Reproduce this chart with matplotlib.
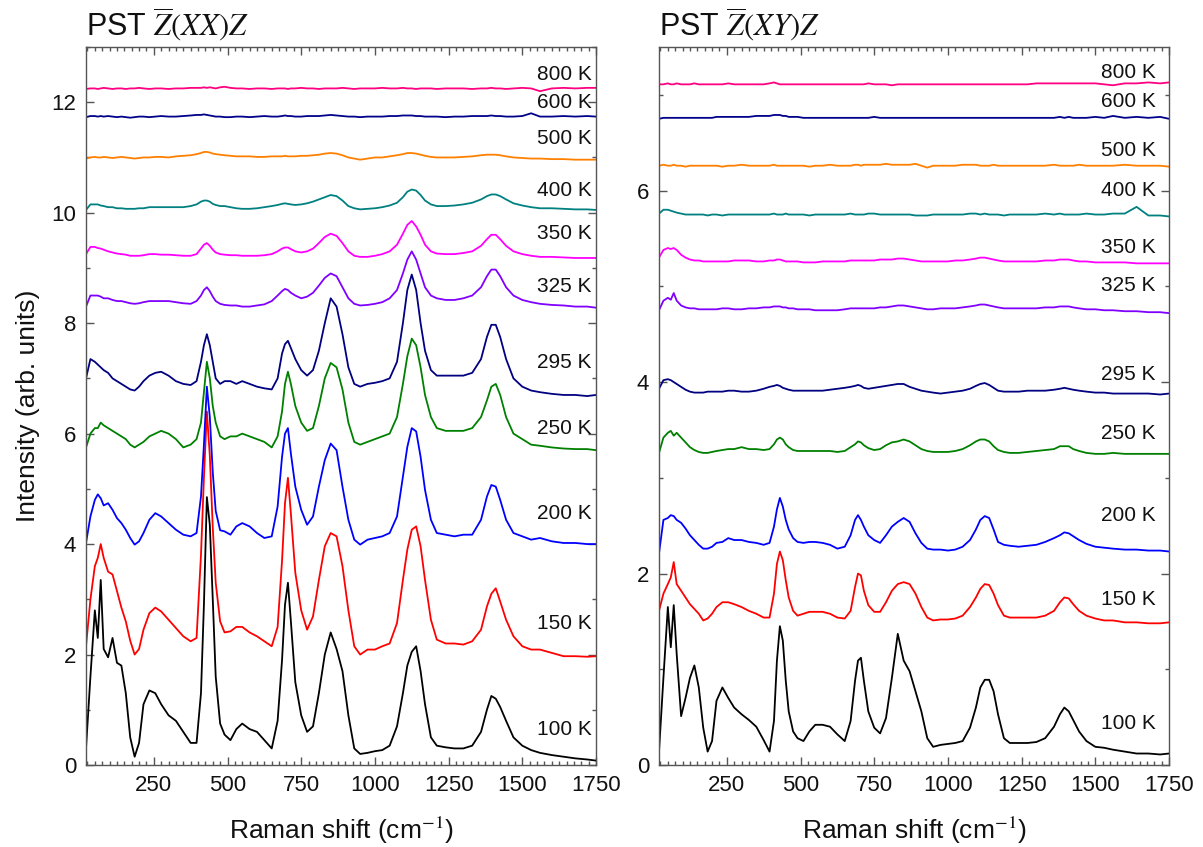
import matplotlib
matplotlib.use("Agg")
import matplotlib.pyplot as plt
from matplotlib.ticker import MultipleLocator

plt.rcParams['font.family'] = ['Liberation Sans', 'DejaVu Sans']
plt.rcParams['mathtext.fontset'] = 'stix'

# Raman shift grid (cm^-1), shared by every spectrum
raman_shift = [20, 35, 50, 60, 70, 80, 95, 110, 125, 140,
               155, 170, 185, 200, 215, 235, 255, 275, 300, 325,
               350, 375, 395, 410, 420, 430, 440, 450, 460, 475,
               490, 510, 530, 550, 575, 600, 625, 650, 670, 685,
               695, 705, 715, 730, 750, 770, 790, 810, 830, 850,
               870, 890, 910, 930, 950, 975, 1000, 1025, 1050, 1075,
               1095, 1110, 1125, 1140, 1155, 1170, 1190, 1210, 1240, 1270,
               1300, 1330, 1360, 1380, 1395, 1410, 1425, 1445, 1470, 1500,
               1530, 1560, 1600, 1640, 1680, 1720, 1750]

temperatures = ['100 K', '150 K', '200 K', '250 K', '295 K', '325 K',
                '350 K', '400 K', '500 K', '600 K', '800 K']
colors = ['#000000', '#ff0000', '#0000ff', '#008000', '#000080', '#8000ff',
          '#ff00ff', '#008080', '#ff8000', '#00008b', '#ff0080']

# ---------------- Z(XX)Z (left panel) ----------------
xx_100 = [0.30, 1.60, 2.80, 2.30, 3.35, 2.10, 1.95, 2.30, 1.85, 1.80,
          1.30, 0.50, 0.15, 0.40, 1.10, 1.35, 1.30, 1.10, 0.90, 0.80,
          0.60, 0.40, 0.40, 1.30, 2.90, 4.85, 4.35, 3.00, 1.60, 0.75,
          0.55, 0.45, 0.65, 0.75, 0.65, 0.60, 0.45, 0.30, 0.80, 1.90,
          2.90, 3.30, 2.60, 1.50, 0.90, 0.60, 0.70, 1.30, 2.00, 2.40,
          2.10, 1.70, 0.90, 0.30, 0.20, 0.22, 0.25, 0.27, 0.35, 0.70,
          1.30, 1.80, 2.05, 2.15, 1.70, 1.10, 0.50, 0.35, 0.32, 0.30,
          0.30, 0.35, 0.60, 1.00, 1.25, 1.20, 1.05, 0.80, 0.50, 0.35,
          0.27, 0.22, 0.18, 0.15, 0.12, 0.10, 0.08]
xx_150 = [2.15, 3.00, 3.60, 3.75, 4.00, 3.75, 3.50, 3.45, 3.15, 2.85,
          2.60, 2.25, 2.00, 2.10, 2.45, 2.75, 2.85, 2.78, 2.63, 2.48,
          2.33, 2.24, 2.30, 3.80, 5.20, 6.40, 5.60, 4.30, 3.30, 2.60,
          2.40, 2.42, 2.50, 2.50, 2.40, 2.33, 2.24, 2.15, 2.50, 3.70,
          4.74, 5.20, 4.55, 3.48, 2.80, 2.45, 2.69, 3.35, 3.96, 4.20,
          4.14, 3.60, 2.80, 2.15, 2.00, 2.09, 2.09, 2.15, 2.20, 2.57,
          3.35, 3.90, 4.26, 4.32, 3.96, 3.35, 2.63, 2.27, 2.20, 2.20,
          2.18, 2.24, 2.45, 2.87, 3.10, 3.20, 2.96, 2.63, 2.33, 2.15,
          2.09, 2.09, 2.03, 1.97, 1.97, 1.96, 1.97]
xx_200 = [4.02, 4.50, 4.80, 4.90, 4.83, 4.70, 4.74, 4.62, 4.47, 4.38,
          4.26, 4.11, 3.99, 4.05, 4.20, 4.44, 4.56, 4.50, 4.38, 4.26,
          4.17, 4.14, 4.20, 4.86, 5.80, 6.85, 6.30, 5.30, 4.60, 4.25,
          4.23, 4.17, 4.32, 4.38, 4.32, 4.20, 4.11, 4.14, 4.68, 5.58,
          6.00, 6.10, 5.64, 5.04, 4.62, 4.35, 4.50, 5.04, 5.52, 5.82,
          5.70, 5.04, 4.44, 4.08, 3.99, 4.08, 4.11, 4.14, 4.20, 4.50,
          5.22, 5.76, 6.10, 6.04, 5.58, 4.98, 4.44, 4.20, 4.17, 4.14,
          4.17, 4.17, 4.44, 4.86, 5.07, 5.04, 4.80, 4.44, 4.20, 4.14,
          4.08, 4.11, 4.05, 4.02, 4.02, 4.00, 4.00]
xx_250 = [5.75, 6.00, 6.10, 6.10, 6.20, 6.15, 6.10, 6.05, 6.00, 5.95,
          5.90, 5.80, 5.75, 5.80, 5.85, 5.95, 6.00, 6.05, 6.00, 5.90,
          5.75, 5.80, 5.90, 6.20, 6.75, 7.30, 7.00, 6.50, 6.20, 5.95,
          5.90, 5.95, 5.95, 6.00, 5.95, 5.90, 5.85, 5.75, 5.95, 6.40,
          6.90, 7.12, 6.90, 6.50, 6.20, 6.05, 6.10, 6.50, 7.00, 7.28,
          7.20, 6.80, 6.20, 5.85, 5.80, 5.85, 5.90, 5.95, 6.00, 6.30,
          6.90, 7.40, 7.72, 7.60, 7.20, 6.70, 6.30, 6.10, 6.05, 6.05,
          6.05, 6.10, 6.30, 6.60, 6.85, 6.90, 6.70, 6.30, 6.00, 5.90,
          5.80, 5.78, 5.75, 5.73, 5.72, 5.72, 5.70]
xx_295 = [7.00, 7.35, 7.30, 7.25, 7.20, 7.15, 7.10, 7.00, 6.95, 6.90,
          6.85, 6.80, 6.78, 6.85, 6.95, 7.05, 7.10, 7.12, 7.05, 6.95,
          6.90, 6.88, 6.95, 7.30, 7.60, 7.80, 7.60, 7.30, 7.00, 6.90,
          6.95, 6.95, 6.90, 6.95, 6.90, 6.85, 6.82, 6.80, 7.00, 7.45,
          7.62, 7.68, 7.55, 7.35, 7.15, 7.05, 7.15, 7.50, 8.00, 8.45,
          8.30, 7.80, 7.20, 6.90, 6.85, 6.90, 6.92, 6.95, 7.00, 7.30,
          8.00, 8.60, 8.88, 8.60, 8.00, 7.50, 7.15, 7.05, 7.05, 7.05,
          7.05, 7.10, 7.35, 7.75, 7.97, 7.97, 7.75, 7.35, 7.00, 6.85,
          6.78, 6.75, 6.72, 6.70, 6.70, 6.68, 6.70]
xx_325 = [8.30, 8.50, 8.50, 8.50, 8.48, 8.45, 8.45, 8.42, 8.40, 8.40,
          8.38, 8.36, 8.35, 8.36, 8.38, 8.40, 8.40, 8.40, 8.40, 8.38,
          8.36, 8.35, 8.40, 8.50, 8.60, 8.65, 8.58, 8.48, 8.40, 8.35,
          8.33, 8.32, 8.32, 8.30, 8.30, 8.32, 8.34, 8.40, 8.50, 8.58,
          8.62, 8.60, 8.55, 8.50, 8.45, 8.48, 8.55, 8.68, 8.82, 8.90,
          8.85, 8.65, 8.45, 8.35, 8.32, 8.33, 8.35, 8.38, 8.45, 8.60,
          8.90, 9.15, 9.30, 9.15, 8.90, 8.65, 8.50, 8.45, 8.42, 8.42,
          8.45, 8.50, 8.65, 8.85, 8.97, 8.97, 8.85, 8.65, 8.50, 8.42,
          8.38, 8.35, 8.33, 8.32, 8.30, 8.30, 8.28]
xx_350 = [9.25, 9.38, 9.38, 9.36, 9.35, 9.33, 9.30, 9.28, 9.26, 9.25,
          9.24, 9.22, 9.22, 9.22, 9.23, 9.25, 9.25, 9.24, 9.24, 9.23,
          9.22, 9.22, 9.25, 9.35, 9.42, 9.45, 9.40, 9.33, 9.28, 9.25,
          9.24, 9.23, 9.23, 9.22, 9.22, 9.22, 9.23, 9.25, 9.30, 9.35,
          9.37, 9.37, 9.34, 9.30, 9.28, 9.30, 9.35, 9.45, 9.56, 9.62,
          9.58, 9.45, 9.30, 9.22, 9.20, 9.20, 9.22, 9.25, 9.30, 9.42,
          9.62, 9.78, 9.85, 9.75, 9.60, 9.42, 9.30, 9.26, 9.25, 9.25,
          9.27, 9.30, 9.40, 9.52, 9.60, 9.60, 9.52, 9.40, 9.30, 9.25,
          9.22, 9.20, 9.20, 9.19, 9.18, 9.18, 9.18]
xx_400 = [10.05, 10.15, 10.15, 10.15, 10.13, 10.12, 10.10, 10.10, 10.08, 10.08,
          10.07, 10.07, 10.07, 10.08, 10.08, 10.10, 10.10, 10.10, 10.10, 10.10,
          10.10, 10.12, 10.15, 10.20, 10.22, 10.22, 10.20, 10.16, 10.14, 10.12,
          10.12, 10.10, 10.08, 10.07, 10.07, 10.08, 10.10, 10.12, 10.14, 10.16,
          10.17, 10.16, 10.15, 10.14, 10.15, 10.17, 10.20, 10.24, 10.28, 10.32,
          10.30, 10.22, 10.12, 10.08, 10.06, 10.07, 10.08, 10.10, 10.13, 10.18,
          10.28, 10.38, 10.42, 10.40, 10.32, 10.22, 10.15, 10.12, 10.12, 10.13,
          10.15, 10.18, 10.24, 10.30, 10.33, 10.33, 10.30, 10.24, 10.17, 10.13,
          10.10, 10.08, 10.08, 10.07, 10.06, 10.06, 10.05]
xx_500 = [10.98, 11.00, 11.01, 11.00, 11.00, 11.01, 11.00, 10.99, 11.00, 11.01,
          11.00, 10.99, 10.98, 10.99, 11.00, 11.00, 11.01, 11.01, 11.00, 11.02,
          11.03, 11.04, 11.06, 11.08, 11.10, 11.10, 11.09, 11.07, 11.06, 11.05,
          11.04, 11.03, 11.02, 11.02, 11.02, 11.01, 11.01, 11.02, 11.02, 11.02,
          11.03, 11.02, 11.02, 11.02, 11.03, 11.03, 11.04, 11.05, 11.07, 11.08,
          11.07, 11.04, 11.00, 10.98, 10.96, 10.98, 11.00, 11.00, 11.02, 11.04,
          11.06, 11.08, 11.08, 11.07, 11.05, 11.03, 11.01, 11.00, 11.00, 11.00,
          11.01, 11.02, 11.04, 11.05, 11.05, 11.05, 11.04, 11.02, 11.00, 10.99,
          10.98, 10.98, 10.97, 10.97, 10.96, 10.96, 10.96]
xx_600 = [11.73, 11.75, 11.75, 11.74, 11.75, 11.74, 11.75, 11.74, 11.73, 11.74,
          11.73, 11.72, 11.73, 11.74, 11.74, 11.73, 11.74, 11.75, 11.74, 11.74,
          11.75, 11.76, 11.77, 11.77, 11.78, 11.77, 11.76, 11.75, 11.74, 11.74,
          11.73, 11.73, 11.74, 11.74, 11.73, 11.74, 11.75, 11.74, 11.74, 11.75,
          11.76, 11.75, 11.75, 11.74, 11.74, 11.75, 11.75, 11.75, 11.76, 11.77,
          11.76, 11.75, 11.74, 11.74, 11.73, 11.74, 11.74, 11.74, 11.75, 11.75,
          11.76, 11.76, 11.76, 11.75, 11.75, 11.74, 11.74, 11.74, 11.73, 11.74,
          11.74, 11.75, 11.75, 11.75, 11.76, 11.75, 11.75, 11.74, 11.74, 11.75,
          11.80, 11.74, 11.74, 11.75, 11.74, 11.75, 11.74]
xx_800 = [12.24, 12.25, 12.25, 12.24, 12.25, 12.26, 12.25, 12.24, 12.25, 12.25,
          12.24, 12.25, 12.25, 12.26, 12.25, 12.24, 12.25, 12.25, 12.24, 12.25,
          12.25, 12.26, 12.26, 12.26, 12.27, 12.26, 12.27, 12.26, 12.25, 12.27,
          12.28, 12.26, 12.25, 12.25, 12.24, 12.25, 12.25, 12.24, 12.25, 12.25,
          12.25, 12.24, 12.25, 12.25, 12.26, 12.25, 12.25, 12.24, 12.25, 12.25,
          12.25, 12.26, 12.25, 12.24, 12.25, 12.25, 12.25, 12.26, 12.25, 12.25,
          12.26, 12.25, 12.25, 12.24, 12.25, 12.25, 12.25, 12.24, 12.25, 12.25,
          12.25, 12.24, 12.25, 12.25, 12.26, 12.25, 12.25, 12.24, 12.25, 12.26,
          12.25, 12.20, 12.25, 12.26, 12.25, 12.26, 12.26]

# ---------------- Z(XY)Z (right panel) ----------------
xy_100 = [0.14, 0.91, 1.65, 1.23, 1.67, 1.16, 0.51, 0.70, 0.91, 1.04,
          0.81, 0.39, 0.14, 0.25, 0.67, 0.81, 0.70, 0.60, 0.53, 0.47,
          0.40, 0.26, 0.14, 0.46, 1.09, 1.45, 1.30, 0.88, 0.56, 0.35,
          0.28, 0.25, 0.35, 0.42, 0.42, 0.40, 0.32, 0.25, 0.46, 0.88,
          1.09, 1.12, 0.88, 0.56, 0.39, 0.33, 0.49, 0.91, 1.37, 1.09,
          0.98, 0.77, 0.56, 0.28, 0.19, 0.21, 0.22, 0.23, 0.25, 0.39,
          0.60, 0.81, 0.89, 0.89, 0.77, 0.53, 0.28, 0.23, 0.23, 0.23,
          0.24, 0.28, 0.40, 0.53, 0.60, 0.56, 0.47, 0.35, 0.25, 0.19,
          0.18, 0.16, 0.14, 0.12, 0.12, 0.11, 0.12]
xy_150 = [1.61, 1.79, 1.89, 1.96, 2.12, 1.89, 1.82, 1.75, 1.68, 1.63,
          1.58, 1.51, 1.53, 1.58, 1.65, 1.70, 1.70, 1.68, 1.65, 1.61,
          1.58, 1.54, 1.54, 1.79, 2.10, 2.23, 2.14, 1.93, 1.75, 1.61,
          1.56, 1.58, 1.60, 1.60, 1.60, 1.58, 1.54, 1.53, 1.61, 1.86,
          2.00, 1.98, 1.82, 1.67, 1.60, 1.60, 1.70, 1.82, 1.89, 1.91,
          1.89, 1.79, 1.65, 1.54, 1.51, 1.52, 1.52, 1.53, 1.56, 1.65,
          1.75, 1.84, 1.89, 1.88, 1.79, 1.67, 1.56, 1.54, 1.54, 1.54,
          1.54, 1.56, 1.61, 1.70, 1.75, 1.74, 1.68, 1.61, 1.56, 1.53,
          1.51, 1.51, 1.49, 1.49, 1.48, 1.48, 1.49]
xy_200 = [2.21, 2.56, 2.58, 2.61, 2.60, 2.56, 2.53, 2.47, 2.40, 2.35,
          2.30, 2.26, 2.26, 2.28, 2.32, 2.33, 2.37, 2.35, 2.35, 2.33,
          2.32, 2.30, 2.32, 2.49, 2.67, 2.79, 2.70, 2.56, 2.46, 2.37,
          2.33, 2.32, 2.33, 2.33, 2.32, 2.30, 2.26, 2.28, 2.40, 2.56,
          2.61, 2.56, 2.49, 2.40, 2.35, 2.32, 2.40, 2.49, 2.54, 2.58,
          2.54, 2.42, 2.32, 2.26, 2.25, 2.25, 2.24, 2.25, 2.28, 2.35,
          2.46, 2.56, 2.60, 2.58, 2.46, 2.33, 2.30, 2.29, 2.28, 2.29,
          2.30, 2.33, 2.37, 2.40, 2.43, 2.42, 2.39, 2.35, 2.31, 2.28,
          2.27, 2.26, 2.25, 2.25, 2.24, 2.24, 2.23]
xy_250 = [3.26, 3.42, 3.47, 3.49, 3.44, 3.47, 3.42, 3.37, 3.32, 3.29,
          3.27, 3.26, 3.26, 3.27, 3.28, 3.29, 3.30, 3.30, 3.32, 3.30,
          3.30, 3.29, 3.30, 3.35, 3.40, 3.42, 3.40, 3.35, 3.32, 3.29,
          3.28, 3.28, 3.28, 3.28, 3.28, 3.28, 3.27, 3.28, 3.32, 3.35,
          3.38, 3.37, 3.34, 3.31, 3.29, 3.30, 3.34, 3.37, 3.38, 3.40,
          3.38, 3.34, 3.30, 3.28, 3.27, 3.27, 3.27, 3.28, 3.30, 3.34,
          3.38, 3.40, 3.40, 3.38, 3.33, 3.29, 3.27, 3.26, 3.26, 3.27,
          3.28, 3.29, 3.30, 3.33, 3.33, 3.33, 3.30, 3.28, 3.26, 3.25,
          3.25, 3.26, 3.25, 3.25, 3.25, 3.25, 3.25]
xy_295 = [3.93, 4.02, 4.03, 4.02, 4.00, 3.98, 3.95, 3.92, 3.90, 3.89,
          3.89, 3.89, 3.90, 3.90, 3.90, 3.90, 3.91, 3.91, 3.90, 3.90,
          3.91, 3.93, 3.95, 3.96, 3.97, 3.96, 3.94, 3.93, 3.92, 3.91,
          3.91, 3.91, 3.91, 3.91, 3.91, 3.92, 3.93, 3.94, 3.95, 3.96,
          3.97, 3.96, 3.94, 3.93, 3.94, 3.95, 3.96, 3.97, 3.98, 3.98,
          3.95, 3.93, 3.91, 3.90, 3.89, 3.88, 3.89, 3.90, 3.91, 3.93,
          3.96, 3.98, 3.99, 3.97, 3.94, 3.91, 3.90, 3.90, 3.90, 3.91,
          3.91, 3.91, 3.92, 3.93, 3.94, 3.93, 3.92, 3.91, 3.90, 3.89,
          3.89, 3.88, 3.88, 3.88, 3.88, 3.87, 3.88]
xy_325 = [4.75, 4.85, 4.88, 4.86, 4.93, 4.85, 4.80, 4.78, 4.77, 4.77,
          4.76, 4.76, 4.76, 4.76, 4.76, 4.77, 4.77, 4.76, 4.76, 4.77,
          4.77, 4.78, 4.78, 4.79, 4.79, 4.79, 4.78, 4.78, 4.77, 4.77,
          4.76, 4.76, 4.76, 4.75, 4.75, 4.75, 4.75, 4.76, 4.77, 4.77,
          4.77, 4.77, 4.77, 4.77, 4.77, 4.78, 4.78, 4.79, 4.80, 4.80,
          4.79, 4.78, 4.77, 4.76, 4.76, 4.77, 4.77, 4.77, 4.78, 4.79,
          4.80, 4.81, 4.81, 4.80, 4.79, 4.78, 4.77, 4.77, 4.77, 4.77,
          4.77, 4.78, 4.78, 4.79, 4.79, 4.79, 4.78, 4.77, 4.76, 4.76,
          4.75, 4.75, 4.74, 4.74, 4.73, 4.73, 4.72]
xy_350 = [5.30, 5.38, 5.40, 5.39, 5.40, 5.38, 5.33, 5.30, 5.28, 5.27,
          5.27, 5.26, 5.26, 5.26, 5.26, 5.26, 5.26, 5.27, 5.27, 5.27,
          5.26, 5.26, 5.27, 5.27, 5.28, 5.28, 5.27, 5.26, 5.26, 5.26,
          5.26, 5.25, 5.25, 5.25, 5.26, 5.26, 5.26, 5.26, 5.27, 5.27,
          5.27, 5.27, 5.27, 5.27, 5.27, 5.28, 5.28, 5.28, 5.29, 5.29,
          5.28, 5.27, 5.26, 5.26, 5.26, 5.26, 5.26, 5.27, 5.27, 5.28,
          5.29, 5.30, 5.30, 5.29, 5.28, 5.27, 5.26, 5.26, 5.26, 5.26,
          5.26, 5.27, 5.27, 5.28, 5.28, 5.28, 5.27, 5.26, 5.26, 5.25,
          5.25, 5.25, 5.25, 5.24, 5.24, 5.24, 5.24]
xy_400 = [5.76, 5.80, 5.80, 5.79, 5.78, 5.77, 5.76, 5.75, 5.75, 5.75,
          5.75, 5.75, 5.74, 5.75, 5.75, 5.74, 5.75, 5.75, 5.75, 5.75,
          5.75, 5.75, 5.75, 5.76, 5.75, 5.75, 5.75, 5.76, 5.75, 5.75,
          5.75, 5.75, 5.74, 5.75, 5.75, 5.75, 5.75, 5.75, 5.76, 5.75,
          5.75, 5.75, 5.75, 5.76, 5.76, 5.75, 5.75, 5.75, 5.75, 5.75,
          5.75, 5.74, 5.74, 5.74, 5.75, 5.75, 5.75, 5.75, 5.75, 5.76,
          5.76, 5.75, 5.76, 5.75, 5.75, 5.75, 5.74, 5.75, 5.75, 5.75,
          5.75, 5.76, 5.75, 5.76, 5.75, 5.75, 5.75, 5.75, 5.76, 5.75,
          5.75, 5.76, 5.76, 5.83, 5.74, 5.74, 5.73]
xy_500 = [6.26, 6.27, 6.26, 6.26, 6.27, 6.26, 6.26, 6.25, 6.26, 6.26,
          6.26, 6.26, 6.26, 6.26, 6.26, 6.25, 6.26, 6.26, 6.27, 6.26,
          6.26, 6.26, 6.26, 6.27, 6.26, 6.26, 6.26, 6.26, 6.26, 6.26,
          6.26, 6.26, 6.25, 6.26, 6.26, 6.27, 6.26, 6.26, 6.26, 6.27,
          6.27, 6.26, 6.27, 6.27, 6.27, 6.27, 6.28, 6.27, 6.27, 6.27,
          6.27, 6.28, 6.26, 6.24, 6.26, 6.26, 6.26, 6.26, 6.27, 6.27,
          6.27, 6.26, 6.26, 6.26, 6.27, 6.26, 6.26, 6.26, 6.26, 6.26,
          6.26, 6.26, 6.27, 6.26, 6.26, 6.26, 6.26, 6.27, 6.26, 6.26,
          6.26, 6.26, 6.27, 6.26, 6.26, 6.26, 6.25]
xy_600 = [6.75, 6.76, 6.76, 6.76, 6.76, 6.76, 6.76, 6.76, 6.76, 6.76,
          6.76, 6.76, 6.76, 6.76, 6.77, 6.77, 6.77, 6.77, 6.77, 6.77,
          6.78, 6.78, 6.78, 6.79, 6.79, 6.79, 6.78, 6.78, 6.77, 6.77,
          6.77, 6.76, 6.76, 6.76, 6.76, 6.76, 6.76, 6.76, 6.76, 6.76,
          6.76, 6.76, 6.76, 6.76, 6.77, 6.76, 6.76, 6.76, 6.76, 6.76,
          6.76, 6.76, 6.76, 6.76, 6.76, 6.76, 6.76, 6.76, 6.76, 6.76,
          6.76, 6.76, 6.76, 6.76, 6.76, 6.76, 6.76, 6.76, 6.76, 6.76,
          6.76, 6.76, 6.76, 6.77, 6.76, 6.77, 6.76, 6.76, 6.76, 6.77,
          6.76, 6.78, 6.76, 6.77, 6.76, 6.77, 6.75]
xy_800 = [7.11, 7.11, 7.12, 7.11, 7.11, 7.12, 7.11, 7.11, 7.11, 7.12,
          7.11, 7.11, 7.11, 7.11, 7.11, 7.11, 7.12, 7.11, 7.11, 7.11,
          7.11, 7.11, 7.12, 7.13, 7.12, 7.11, 7.11, 7.11, 7.11, 7.11,
          7.11, 7.11, 7.11, 7.11, 7.11, 7.11, 7.11, 7.11, 7.11, 7.11,
          7.11, 7.11, 7.11, 7.12, 7.11, 7.11, 7.11, 7.10, 7.11, 7.11,
          7.11, 7.11, 7.11, 7.11, 7.11, 7.11, 7.11, 7.11, 7.11, 7.11,
          7.11, 7.11, 7.11, 7.11, 7.11, 7.11, 7.11, 7.11, 7.11, 7.11,
          7.12, 7.12, 7.12, 7.12, 7.12, 7.12, 7.12, 7.12, 7.12, 7.12,
          7.11, 7.10, 7.12, 7.12, 7.13, 7.12, 7.13]

# label heights (data units) for temperature annotations
xx_label_y = [0.64, 2.56, 4.56, 6.10, 7.29, 8.67, 9.63, 10.41, 11.34, 12.00, 12.51]
xy_label_y = [0.43, 1.73, 2.61, 3.46, 4.08, 5.01, 5.41, 6.00, 6.42, 6.93, 7.23]

xx_series = [xx_100, xx_150, xx_200, xx_250, xx_295, xx_325, xx_350,
             xx_400, xx_500, xx_600, xx_800]
xy_series = [xy_100, xy_150, xy_200, xy_250, xy_295, xy_325, xy_350,
             xy_400, xy_500, xy_600, xy_800]

W, H = 1203, 847
fig = plt.figure(figsize=(W / 100, H / 100), dpi=100)
ax_l = fig.add_axes([86 / W, 1 - 765 / H, 510 / W, 718 / H])
ax_r = fig.add_axes([659 / W, 1 - 765 / H, 510 / W, 718 / H])

panels = [
    (ax_l, xx_series, xx_label_y, 13.0, r'PST $\overline{Z}(XX)Z$', 1735),
    (ax_r, xy_series, xy_label_y, 7.5, r'PST $\overline{Z}(XY)Z$', 1705),
]

for ax, series, label_y, ytop, title, lab_x in panels:
    for ys, col in zip(series, colors):
        ax.plot(raman_shift, ys, color=col, lw=1.3, solid_joinstyle='round')
    for t, yl in zip(temperatures, label_y):
        ax.text(lab_x, yl, t, ha='right', va='center', fontsize=15, color='#111111')
    ax.set_xlim(20, 1750)
    ax.set_ylim(0, ytop)
    ax.xaxis.set_major_locator(MultipleLocator(250))
    ax.xaxis.set_minor_locator(MultipleLocator(25))
    ax.yaxis.set_major_locator(MultipleLocator(2))
    ax.yaxis.set_minor_locator(MultipleLocator(1))
    ax.tick_params(which='both', direction='in', top=True, right=True,
                   labeltop=False, labelright=False, colors='#555555',
                   labelcolor='#111111', width=1.0)
    ax.tick_params(which='major', length=6, labelsize=16)
    ax.tick_params(which='minor', length=3)
    ax.tick_params(axis='y', which='major', pad=7)
    ax.tick_params(axis='x', which='major', pad=7)
    for sp in ax.spines.values():
        sp.set_color('#555555')
        sp.set_linewidth(1.0)
    ax.text(0.0, 1 + 11 / 718, title, transform=ax.transAxes, ha='left',
            va='baseline', fontsize=22, color='#111111')
    ax.set_xlabel('Raman shift (cm$^{-1}$)', fontsize=19, labelpad=14,
                  color='#111111')

fig.text(28 / W, 1 - 406 / H, 'Intensity (arb. units)', rotation=90,
         ha='center', va='center', fontsize=19, color='#111111')

fig.savefig('out.png', dpi=100)
